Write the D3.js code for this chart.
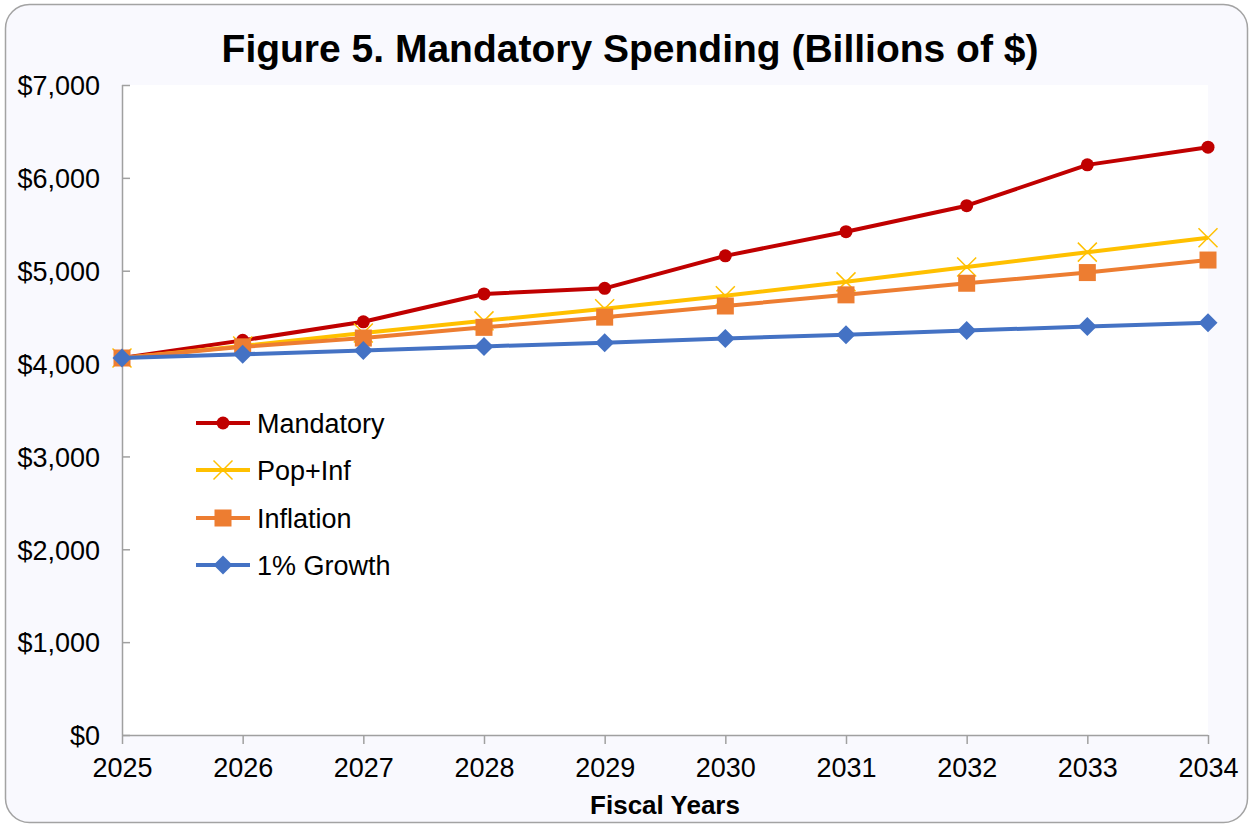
<!DOCTYPE html>
<html>
<head>
<meta charset="utf-8">
<script src="https://cdn.jsdelivr.net/npm/d3@7"></script>
<style>
  html, body { margin: 0; padding: 0; background: #ffffff; }
  svg { display: block; }
  text { font-family: "Liberation Sans", Arial, sans-serif; fill: #000; }
</style>
</head>
<body>
<svg id="chart" width="1252" height="825"></svg>
<script>
// Fiscal years on the horizontal axis
const years = [2025, 2026, 2027, 2028, 2029, 2030, 2031, 2032, 2033, 2034];

// Spending paths, billions of dollars
const mandatory = [4060, 4250, 4450, 4750, 4810, 5160, 5420, 5700, 6140, 6330];
const popInf    = [4060, 4190, 4330, 4460, 4590, 4730, 4880, 5040, 5200, 5355];
const inflation = [4060, 4180, 4275, 4390, 4500, 4620, 4740, 4865, 4980, 5115];
const growth1   = [4060, 4100, 4140, 4185, 4225, 4270, 4310, 4355, 4400, 4440];

const seriesNames = ["Mandatory", "Pop+Inf", "Inflation", "1% Growth"];
const yTicks = [0, 1000, 2000, 3000, 4000, 5000, 6000, 7000];

const svg = d3.select("#chart");
const plot = { left: 122, right: 1208, top: 85, bottom: 735 };

const x = d3.scaleLinear().domain([2025, 2034]).range([plot.left, plot.right]);
const y = d3.scaleLinear().domain([0, 7000]).range([plot.bottom, plot.top]);

// Chart frame
svg.append("rect")
  .attr("x", 5.5).attr("y", 4.5).attr("width", 1242).attr("height", 818)
  .attr("rx", 24).attr("ry", 24)
  .attr("fill", "#f9f9fe").attr("stroke", "#a3a3a3").attr("stroke-width", 1.5);

// Plot area
svg.append("rect")
  .attr("x", plot.left).attr("y", plot.top)
  .attr("width", plot.right - plot.left).attr("height", plot.bottom - plot.top)
  .attr("fill", "#ffffff");

// Title
svg.append("text")
  .attr("x", 630).attr("y", 62)
  .attr("text-anchor", "middle")
  .style("font-size", "39px").style("font-weight", "bold")
  .text("Figure 5. Mandatory Spending (Billions of $)");

const axisColor = "#a0a0a0";
const dollar = d3.format("$,");

// Y axis: ticks point into the plot
const yAxis = svg.append("g")
  .attr("transform", `translate(${plot.left},0)`)
  .call(d3.axisRight(y).tickValues(yTicks).tickSize(8).tickFormat(dollar));
yAxis.select(".domain").attr("stroke", axisColor).attr("stroke-width", 1.5)
  .attr("d", `M0.5,${plot.top}V${plot.bottom}`);
yAxis.selectAll(".tick line").attr("stroke", axisColor).attr("stroke-width", 1.5);
yAxis.selectAll(".tick text")
  .attr("x", -22).attr("dy", "0.36em")
  .attr("text-anchor", "end")
  .style("font-size", "27px").style("font-family", "'Liberation Sans', Arial, sans-serif");

// X axis: ticks hang below the baseline
const xAxis = svg.append("g")
  .attr("transform", `translate(0,${plot.bottom})`)
  .call(d3.axisBottom(x).tickValues(years).tickSize(9).tickFormat(d3.format("d")));
xAxis.select(".domain").attr("stroke", axisColor).attr("stroke-width", 1.5)
  .attr("d", `M${plot.left},0.5H${plot.right}`);
xAxis.selectAll(".tick line").attr("stroke", axisColor).attr("stroke-width", 1.5);
xAxis.selectAll(".tick text")
  .attr("y", 42).attr("dy", 0)
  .style("font-size", "27px").style("font-family", "'Liberation Sans', Arial, sans-serif");

// Axis title
svg.append("text")
  .attr("x", 665).attr("y", 814)
  .attr("text-anchor", "middle")
  .style("font-size", "26px").style("font-weight", "bold")
  .text("Fiscal Years");

// Marker painters
function drawCircle(g, c) {
  g.append("circle").attr("r", 6.5).attr("fill", c);
}
function drawCross(g, c) {
  g.append("path").attr("d", "M-9.5,-9.5L9.5,9.5M-9.5,9.5L9.5,-9.5")
    .attr("stroke", c).attr("stroke-width", 1.5).attr("fill", "none");
}
function drawSquare(g, c) {
  g.append("rect").attr("x", -8.5).attr("y", -8.5).attr("width", 17).attr("height", 17).attr("fill", c);
}
function drawDiamond(g, c) {
  g.append("path").attr("d", "M0,-9.5L9.5,0L0,9.5L-9.5,0Z").attr("fill", c);
}

const series = [
  { name: seriesNames[0], values: mandatory, color: "#c00000", marker: drawCircle },
  { name: seriesNames[1], values: popInf,    color: "#ffc000", marker: drawCross },
  { name: seriesNames[2], values: inflation, color: "#ed7d31", marker: drawSquare },
  { name: seriesNames[3], values: growth1,   color: "#4472c4", marker: drawDiamond }
];

const line = d3.line().x((d, i) => x(years[i])).y(d => y(d));

series.forEach(s => {
  const g = svg.append("g");
  g.append("path").datum(s.values)
    .attr("d", line)
    .attr("fill", "none").attr("stroke", s.color)
    .attr("stroke-width", 4).attr("stroke-linejoin", "round");
  s.values.forEach((v, i) => {
    const m = g.append("g").attr("transform", `translate(${x(years[i])},${y(v)})`);
    s.marker(m, s.color);
  });
});

// Legend
const legendRows = [423, 470, 518, 565];
series.forEach((s, i) => {
  const g = svg.append("g").attr("transform", `translate(223,${legendRows[i]})`);
  g.append("line").attr("x1", -27).attr("x2", 27)
    .attr("stroke", s.color).attr("stroke-width", 4);
  s.marker(g, s.color);
  g.append("text").attr("x", 34).attr("dy", "0.36em")
    .style("font-size", "27px")
    .text(s.name);
});
</script>
</body>
</html>
